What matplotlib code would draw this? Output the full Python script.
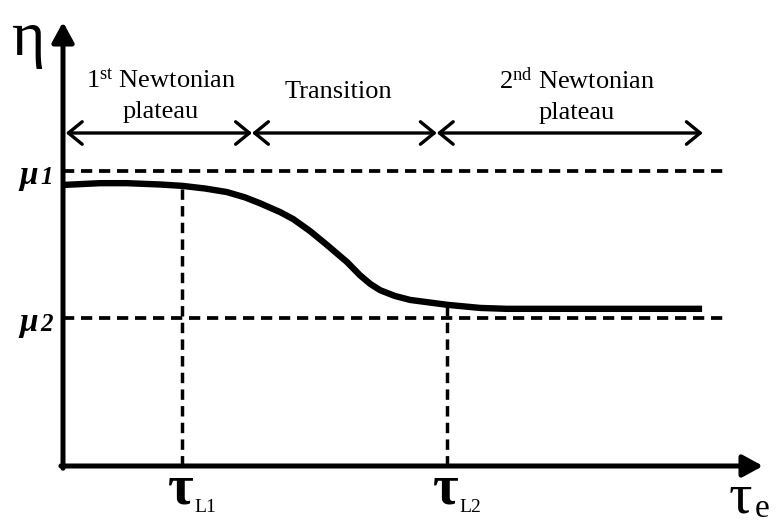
#!/usr/bin/env python3
"""Schematic of viscosity vs. effective shear stress (two Newtonian plateaus)."""

import matplotlib
matplotlib.use("Agg")
import matplotlib.pyplot as plt

plt.rcParams["font.family"] = ["Liberation Serif", "DejaVu Serif"]
plt.rcParams["mathtext.fontset"] = "custom"
plt.rcParams["mathtext.rm"] = "Liberation Serif"
plt.rcParams["mathtext.it"] = "Liberation Serif:italic"
plt.rcParams["mathtext.bf"] = "Liberation Serif:bold"

# curve (arbitrary units, axes run 0..10)
tau = [0.00, 0.53, 0.91, 1.39, 1.70, 2.03, 2.34, 2.60, 2.81, 3.10, 3.29, 3.53,
       3.77, 4.06, 4.24, 4.39, 4.53, 4.74, 4.96, 5.49, 5.96, 6.34, 7.29, 9.13]
eta = [6.33, 6.37, 6.37, 6.34, 6.31, 6.25, 6.17, 6.05, 5.92, 5.72, 5.56, 5.29,
       4.98, 4.59, 4.30, 4.10, 3.96, 3.83, 3.74, 3.63, 3.56, 3.54, 3.54, 3.54]

mu_levels = [6.64, 3.33]
mu_labels = ["1", "2"]
mu_line_end = 9.46

tau_marks = [1.70, 5.49]
tau_mark_eta = [6.31, 3.63]
tau_mark_labels = ["L1", "L2"]

region_edges = [0.04, 2.70, 5.34, 9.14]
region_level = 7.5

X_MAX = 10.0
Y_MAX = 10.0


def main() -> None:
    fig = plt.figure(figsize=(7.77, 5.27), dpi=100)
    ax = fig.add_axes([63 / 777, 61 / 527, 700 / 777, 444 / 527])
    ax.set_xlim(0, X_MAX)
    ax.set_ylim(0, Y_MAX)
    ax.axis("off")

    dash = (0, (3.0, 1.8))

    # reference levels
    for level in mu_levels:
        ax.plot([0, mu_line_end], [level, level], color="black", lw=2.7,
                linestyle=dash, clip_on=False)
    for x, top in zip(tau_marks, tau_mark_eta):
        ax.plot([x, x], [0, top], color="black", lw=2.5,
                linestyle=dash, clip_on=False)

    # viscosity curve
    ax.plot(tau, eta, color="black", lw=4.6, solid_capstyle="butt",
            solid_joinstyle="round", clip_on=False)

    # axes with arrows
    head = "-|>,head_length=0.55,head_width=0.3"
    ax.annotate("", xy=(X_MAX, 0), xytext=(-0.03, 0),
                arrowprops=dict(arrowstyle=head, lw=3.6, color="black",
                                shrinkA=0, shrinkB=0, mutation_scale=22))
    ax.annotate("", xy=(0, Y_MAX), xytext=(0, -0.05),
                arrowprops=dict(arrowstyle=head, lw=3.6, color="black",
                                shrinkA=0, shrinkB=0, mutation_scale=22))

    # region arrows
    for left, right in zip(region_edges[:-1], region_edges[1:]):
        ax.annotate("", xy=(right, region_level), xytext=(left, region_level),
                    arrowprops=dict(arrowstyle="<->,head_length=0.55,head_width=0.45",
                                    lw=2.4, color="black", shrinkA=0, shrinkB=0,
                                    mutation_scale=18))

    fs = 19
    ax.text(1.40, 8.69, "1$^{\\mathrm{st}}$ Newtonian", ha="center", va="center", fontsize=fs)
    ax.text(1.40, 7.97, "plateau", ha="center", va="center", fontsize=fs)
    ax.text(3.94, 8.42, "Transition", ha="center", va="center", fontsize=fs)
    ax.text(7.34, 8.69, "2$^{\\mathrm{nd}}$ Newtonian", ha="center", va="center", fontsize=fs)
    ax.text(7.34, 7.95, "plateau", ha="center", va="center", fontsize=fs)

    # axis symbols
    ax.text(-0.49, 9.59, "η", ha="center", va="center", fontsize=46, clip_on=False)
    ax.text(9.68, -1.04, "τ", ha="center", va="baseline", fontsize=42, clip_on=False)
    ax.text(9.88, -1.31, "e", ha="left", va="bottom", fontsize=24, clip_on=False)

    for level, sub in zip(mu_levels, mu_labels):
        ax.text(-0.36, level - 0.10, "μ", ha="right", va="center", fontsize=24,
                fontweight="bold", fontstyle="italic", clip_on=False)
        ax.text(-0.15, level - 0.15, sub, ha="right", va="center", fontsize=18,
                fontweight="bold", fontstyle="italic", clip_on=False)

    for x, sub in zip(tau_marks, tau_mark_labels):
        ax.text(x - 0.02, -0.85, "τ", ha="center", va="baseline", fontsize=40,
                fontweight="bold", clip_on=False)
        ax.text(x + 0.17, -1.03, sub, ha="left", va="baseline", fontsize=14,
                clip_on=False)

    fig.savefig("out.png", dpi=100)


if __name__ == "__main__":
    main()
